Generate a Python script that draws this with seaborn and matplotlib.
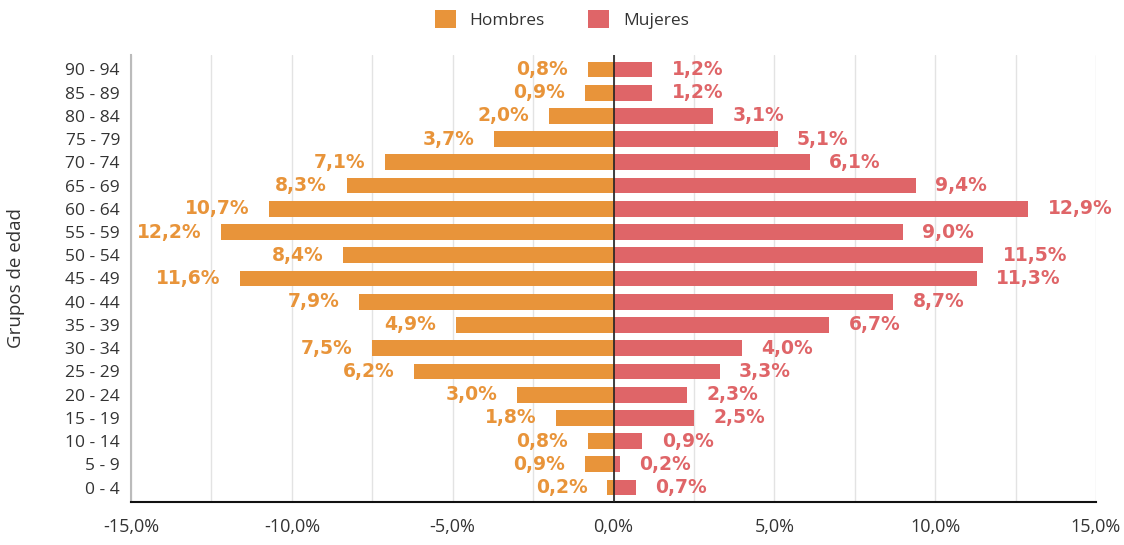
import matplotlib
matplotlib.use("Agg")
import matplotlib.pyplot as plt
from matplotlib.ticker import MultipleLocator, FixedLocator
from matplotlib.patches import Patch
import seaborn as sns
import pandas as pd

grupos = ["0 - 4", "5 - 9", "10 - 14", "15 - 19", "20 - 24", "25 - 29", "30 - 34",
          "35 - 39", "40 - 44", "45 - 49", "50 - 54", "55 - 59", "60 - 64",
          "65 - 69", "70 - 74", "75 - 79", "80 - 84", "85 - 89", "90 - 94"]
hombres = [0.2, 0.9, 0.8, 1.8, 3.0, 6.2, 7.5, 4.9, 7.9, 11.6, 8.4, 12.2, 10.7,
           8.3, 7.1, 3.7, 2.0, 0.9, 0.8]
mujeres = [0.7, 0.2, 0.9, 2.5, 2.3, 3.3, 4.0, 6.7, 8.7, 11.3, 11.5, 9.0, 12.9,
           9.4, 6.1, 5.1, 3.1, 1.2, 1.2]
series = ["Hombres", "Mujeres"]
colores = ["#E8943A", "#DF6568"]
xticks = [-15, -10, -5, 0, 5, 10, 15]

sns.set_theme(style="white")
plt.rcParams["font.family"] = ["Open Sans", "DejaVu Sans"]

df = pd.DataFrame({"grupo": grupos, "Hombres": [-v for v in hombres], "Mujeres": mujeres})
order = grupos[::-1]

fig = plt.figure(figsize=(11.24, 5.45), dpi=100)
ax = fig.add_axes([131/1124, 1-502/545, (1096-131)/1124, (502-55)/545])

for s, c in zip(series, colores):
    sns.barplot(data=df, x=s, y="grupo", order=order, orient="h", color=c,
                width=0.68, ax=ax, saturation=1, linewidth=0)

for i, g in enumerate(order):
    k = grupos.index(g)
    h = hombres[k]
    m = mujeres[k]
    ax.annotate(f"{h:.1f}%".replace(".", ","), xy=(-h, i), xytext=(-14, 0),
                textcoords="offset points", ha="right", va="center",
                fontfamily="DejaVu Sans", fontweight="bold", fontsize=13.5,
                color=colores[0])
    ax.annotate(f"{m:.1f}%".replace(".", ","), xy=(m, i), xytext=(14, 0),
                textcoords="offset points", ha="left", va="center",
                fontfamily="DejaVu Sans", fontweight="bold", fontsize=13.5,
                color=colores[1])

ax.set_xlim(-15, 15)
ax.set_ylim(18.62, -0.62)
ax.xaxis.set_major_locator(FixedLocator(xticks))
ax.set_xticklabels([f"{t:.1f}%".replace(".", ",") for t in xticks])
ax.xaxis.set_minor_locator(MultipleLocator(2.5))
ax.grid(True, axis="x", which="both", color="#e3e3e3", linewidth=1)
ax.set_axisbelow(True)
ax.axvline(0, color="#222222", linewidth=1.2, zorder=3)

for side in ["top", "right"]:
    ax.spines[side].set_visible(False)
ax.spines["left"].set_color("#bbbbbb")
ax.spines["left"].set_linewidth(1.5)
ax.spines["bottom"].set_color("#111111")
ax.spines["bottom"].set_linewidth(1.5)

ax.tick_params(axis="x", which="major", direction="inout", length=15, width=1.5,
               color="#111111", labelsize=13, labelcolor="#333333", pad=4)
ax.tick_params(axis="x", which="minor", length=0)
ax.tick_params(axis="y", length=0, labelsize=12.5, labelcolor="#333333", pad=8)

ax.set_xlabel("")
ax.set_ylabel("Grupos de edad", fontsize=13.5, color="#333333")
ax.yaxis.set_label_coords(-0.11, 0.5)

handles = [Patch(facecolor=c, edgecolor="none") for c in colores]
fig.legend(handles, series, loc="upper center", bbox_to_anchor=(0.5, 1.01), ncol=2,
           frameon=False, fontsize=12.5, handlelength=1.2, handleheight=1.2,
           columnspacing=2.5, handletextpad=0.8, labelcolor="#333333")

fig.savefig("out.png", dpi=100)
